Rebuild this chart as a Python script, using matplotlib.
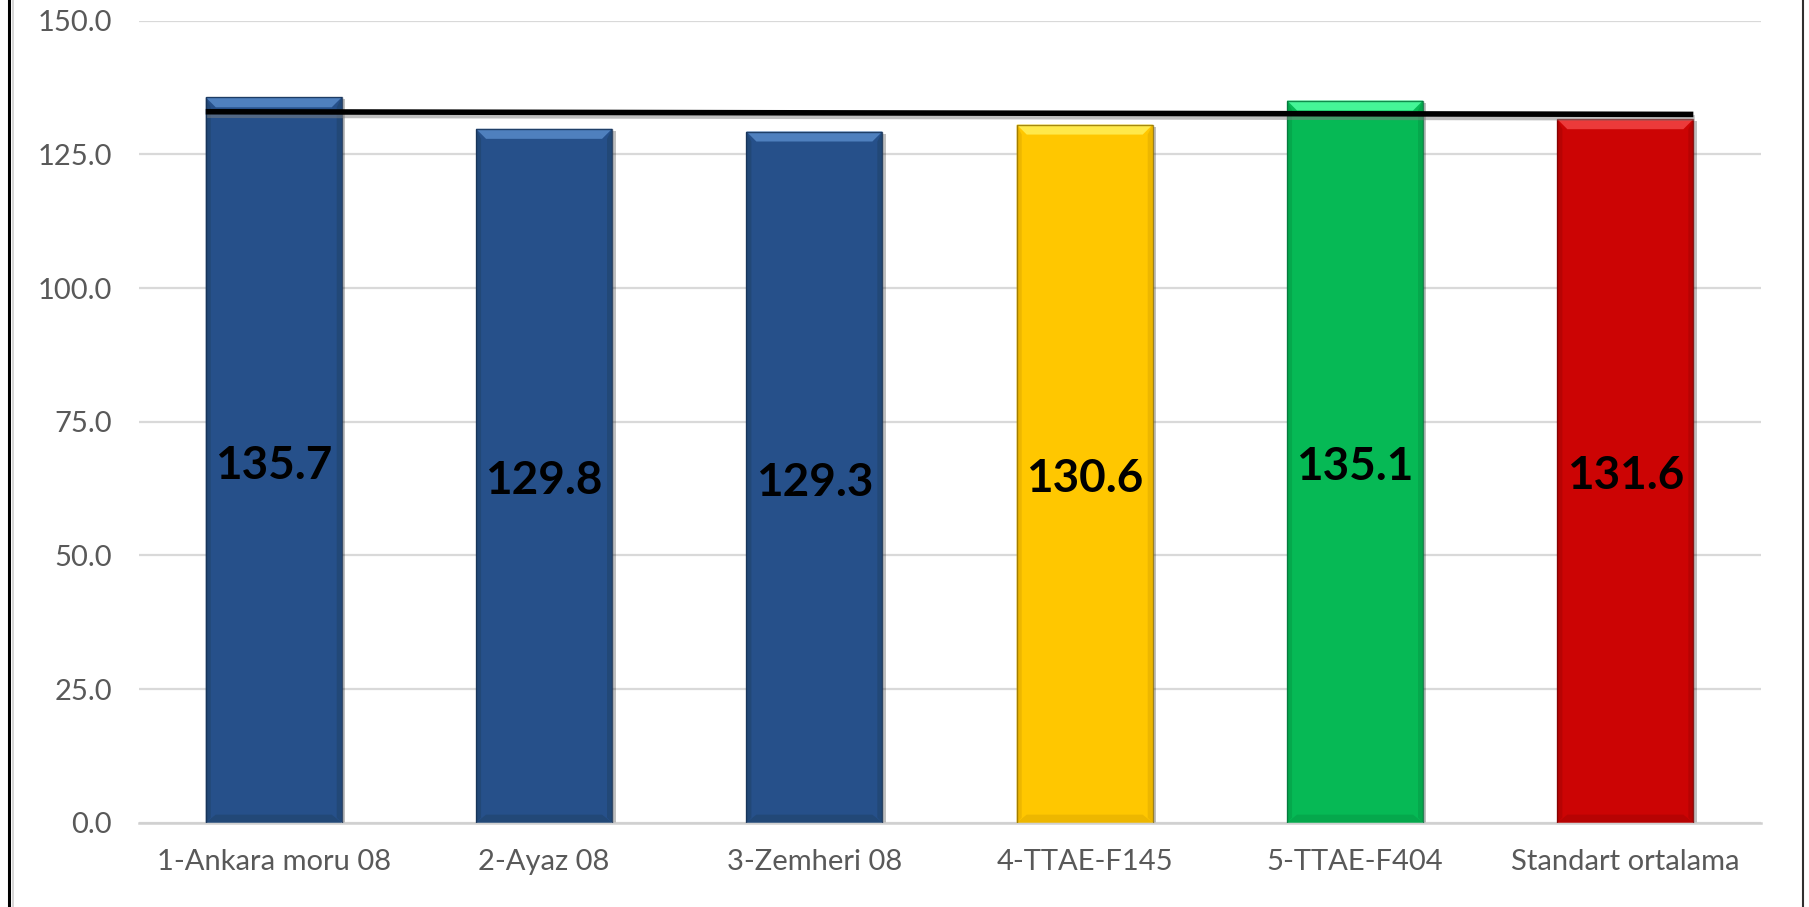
import matplotlib
matplotlib.use("Agg")
import matplotlib.pyplot as plt
from matplotlib.patches import Polygon
from matplotlib.lines import Line2D
import matplotlib.patheffects as pe

# ---- data ----
categories = ["1-Ankara moru 08", "2-Ayaz 08", "3-Zemheri 08", "4-TTAE-F145", "5-TTAE-F404", "Standart ortalama"]
values = [135.7, 129.8, 129.3, 130.6, 135.1, 131.6]
value_labels = ["135.7", "129.8", "129.3", "130.6", "135.1", "131.6"]
mean_line = [133.0, 132.5]          # black reference line, left end / right end
yticks = [0, 25, 50, 75, 100, 125, 150]
ytick_labels = ["0.0", "25.0", "50.0", "75.0", "100.0", "125.0", "150.0"]

# ---- styles ----
main_colors = ["#26508A", "#26508A", "#26508A", "#FFC700", "#06B955", "#CC0404"]
top_colors = ["#4F80BE", "#4F80BE", "#4F80BE", "#FFE94A", "#45F597", "#EC3A3A"]
side_colors = ["#224877", "#224877", "#224877", "#EDB700", "#05A84C", "#B70303"]
edge_colors = ["#152F52", "#152F52", "#152F52", "#8F7000", "#04703A", "#7A0000"]

W, H, DPI = 18.09, 9.07, 100
fig = plt.figure(figsize=(W, H), dpi=DPI)
ax_rect = [0.0766, 0.0930, 0.8966, 0.884]
ax = fig.add_axes(ax_rect)

n = len(categories)
x = list(range(n))
bw = 0.503
ax.set_xlim(-0.5, n - 0.5)
ax.set_ylim(0, 150)

# pixel -> data conversion for bevel sizes
px_per_x = ax_rect[2] * W * DPI / n
px_per_y = ax_rect[3] * H * DPI / 150
bevel_px = 10
dx = bevel_px / px_per_x
dy = bevel_px / px_per_y

ax.set_axisbelow(True)
ax.yaxis.grid(True, color="#D9D9D9", linewidth=1.6)
ax.set_yticks(yticks)
ax.set_yticklabels(ytick_labels)

bars = ax.bar(x, values, width=bw, color=main_colors, zorder=2,
              path_effects=[pe.SimplePatchShadow(offset=(2.5, -1.5), shadow_rgbFace="#000000", alpha=0.25),
                            pe.Normal()])

for i, b in enumerate(bars):
    x0 = b.get_x()
    x1 = x0 + b.get_width()
    v = b.get_height()
    # side faces
    ax.add_patch(Polygon([(x0, 0), (x0 + dx * 0.5, dy * 0.5), (x0 + dx * 0.5, v - dy), (x0, v)],
                         closed=True, facecolor=side_colors[i], edgecolor="none", zorder=3))
    ax.add_patch(Polygon([(x1, 0), (x1 - dx * 0.5, dy * 0.5), (x1 - dx * 0.5, v - dy), (x1, v)],
                         closed=True, facecolor=side_colors[i], edgecolor="none", zorder=3))
    # bottom face
    ax.add_patch(Polygon([(x0, 0), (x1, 0), (x1 - dx, dy * 0.8), (x0 + dx, dy * 0.8)],
                         closed=True, facecolor=side_colors[i], edgecolor="none", zorder=3))
    # top bevel
    ax.add_patch(Polygon([(x0, v), (x1, v), (x1 - dx, v - dy), (x0 + dx, v - dy)],
                         closed=True, facecolor=top_colors[i], edgecolor="none", zorder=3))
    # dark outline
    ax.add_patch(Polygon([(x0, 0), (x0, v), (x1, v), (x1, 0)], closed=False, fill=False,
                         edgecolor=edge_colors[i], linewidth=1.0, alpha=0.8, zorder=4))
    ax.annotate(value_labels[i], xy=(x[i], v / 2), xytext=(0, -4), textcoords="offset points",
                ha="center", va="center", fontsize=33,
                fontweight="bold", family="Lato", color="black", zorder=6)

# reference line across bar edges
ax.plot([x[0] - bw / 2, x[-1] + bw / 2], mean_line, color="black", linewidth=4.0,
        solid_capstyle="butt", zorder=5,
        path_effects=[pe.SimpleLineShadow(offset=(1, -2.5), shadow_color="#808080", alpha=0.5),
                      pe.Normal()])

for s in ["top", "right", "left"]:
    ax.spines[s].set_visible(False)
ax.spines["bottom"].set_color("#D0D0D0")
ax.spines["bottom"].set_linewidth(1.8)
ax.tick_params(axis="both", length=0, colors="#595959", labelsize=21)
ax.tick_params(axis="y", pad=19)
ax.tick_params(axis="x", pad=19)
ax.set_xticks(x)
ax.set_xticklabels(categories)
for lab in ax.get_xticklabels() + ax.get_yticklabels():
    lab.set_family("Lato")

# outer frame lines (left and right)
fig.add_artist(Line2D([9 / (W * DPI)] * 2, [0, 1], color="black", linewidth=2.2, transform=fig.transFigure))
fig.add_artist(Line2D([12.5 / (W * DPI)] * 2, [0, 1], color="#D0D0D0", linewidth=1.2, transform=fig.transFigure))
fig.add_artist(Line2D([1803 / (W * DPI)] * 2, [0, 1], color="#303030", linewidth=1.5, transform=fig.transFigure))

fig.savefig("out.png", dpi=DPI)
